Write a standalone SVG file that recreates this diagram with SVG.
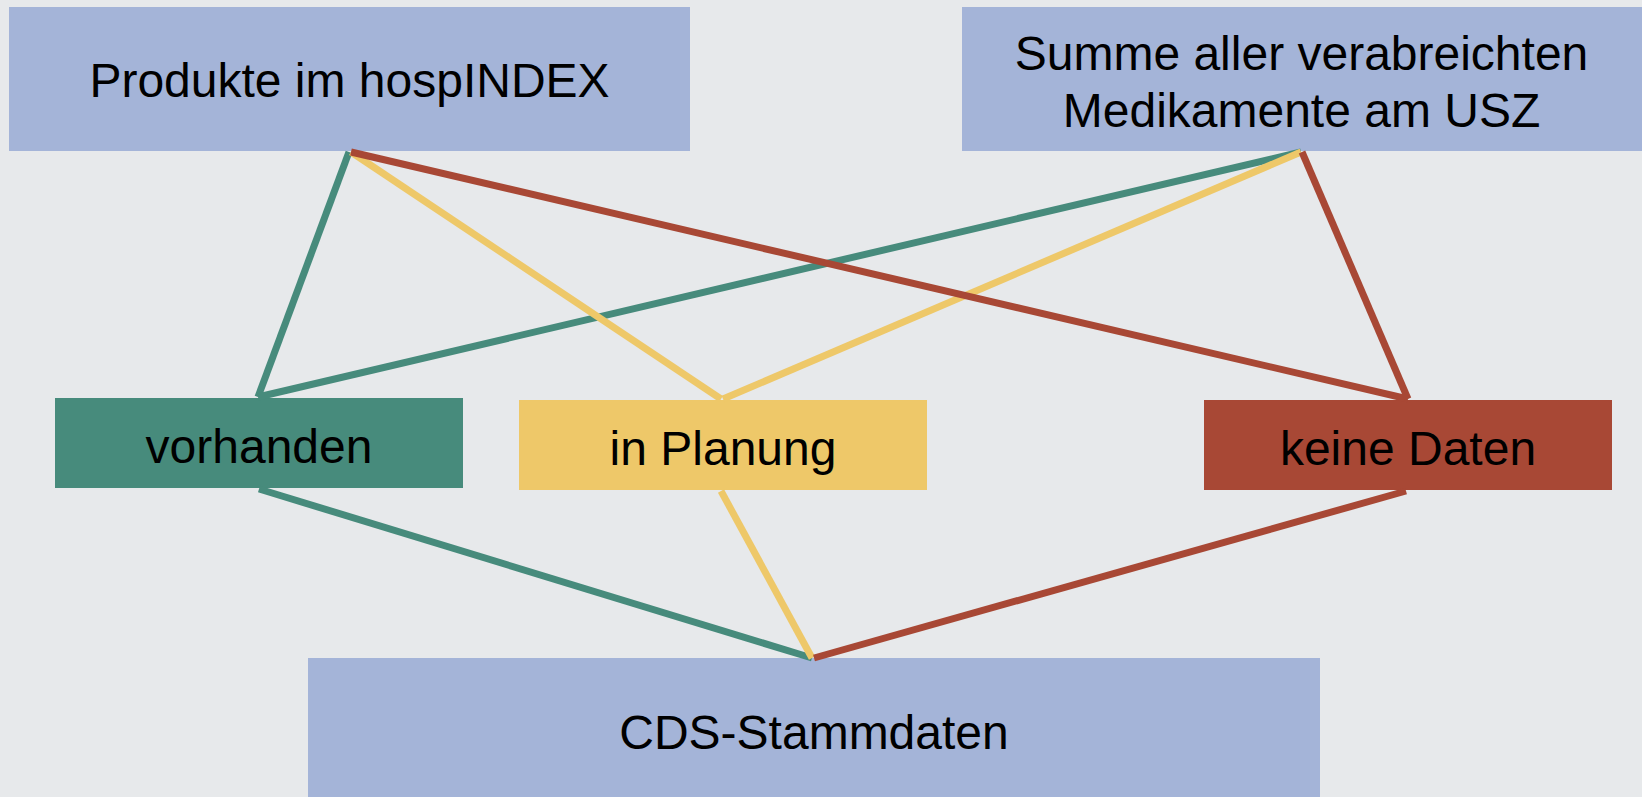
<svg xmlns="http://www.w3.org/2000/svg" width="1642" height="797" viewBox="0 0 1642 797">
<style>
.t{font-family:"Liberation Sans",Arial,sans-serif;font-size:48px;fill:#000;text-anchor:middle}
.blue{fill:#A4B4D8}
.c{fill:none;stroke-width:7;stroke-linecap:butt}
.g{stroke:#478B7C}.y{stroke:#EEC869}.r{stroke:#A84835}
</style>
<rect width="1642" height="797" fill="#E7E9EB"/>
<g id="n-hospindex"><rect class="blue" x="9" y="7" width="681" height="144"/><text class="t" x="349.5" y="97">Produkte im hospINDEX</text></g>
<g id="n-summe"><rect class="blue" x="962" y="7" width="680" height="144"/><text class="t" x="1301.5" y="70">Summe aller verabreichten</text><text class="t" x="1301.5" y="127">Medikamente am USZ</text></g>
<g id="n-vorhanden"><rect fill="#478B7C" x="55" y="398" width="408" height="90"/><text class="t" x="259" y="463">vorhanden</text></g>
<g id="n-planung"><rect fill="#EEC869" x="519" y="400" width="408" height="90"/><text class="t" x="723" y="465">in Planung</text></g>
<g id="n-keine"><rect fill="#A84835" x="1204" y="400" width="408" height="90"/><text class="t" x="1408" y="465">keine Daten</text></g>
<g id="n-cds"><rect class="blue" x="308" y="658" width="1012" height="139"/><text class="t" x="814" y="749">CDS-Stammdaten</text></g>
<g id="connectors">
<line class="c g" x1="349" y1="152" x2="258" y2="397"/>
<line class="c g" x1="1301" y1="152" x2="258" y2="397"/>
<line class="c g" x1="259" y1="489" x2="812" y2="658"/>
<line class="c y" x1="351" y1="152" x2="721" y2="399"/>
<line class="c y" x1="1301" y1="152" x2="723" y2="399"/>
<line class="c y" x1="721" y1="491" x2="812" y2="658"/>
<line class="c r" x1="351" y1="152" x2="1408" y2="399"/>
<line class="c r" x1="1302" y1="152" x2="1408" y2="399"/>
<line class="c r" x1="1406" y1="491" x2="814" y2="658"/>
</g>
</svg>
